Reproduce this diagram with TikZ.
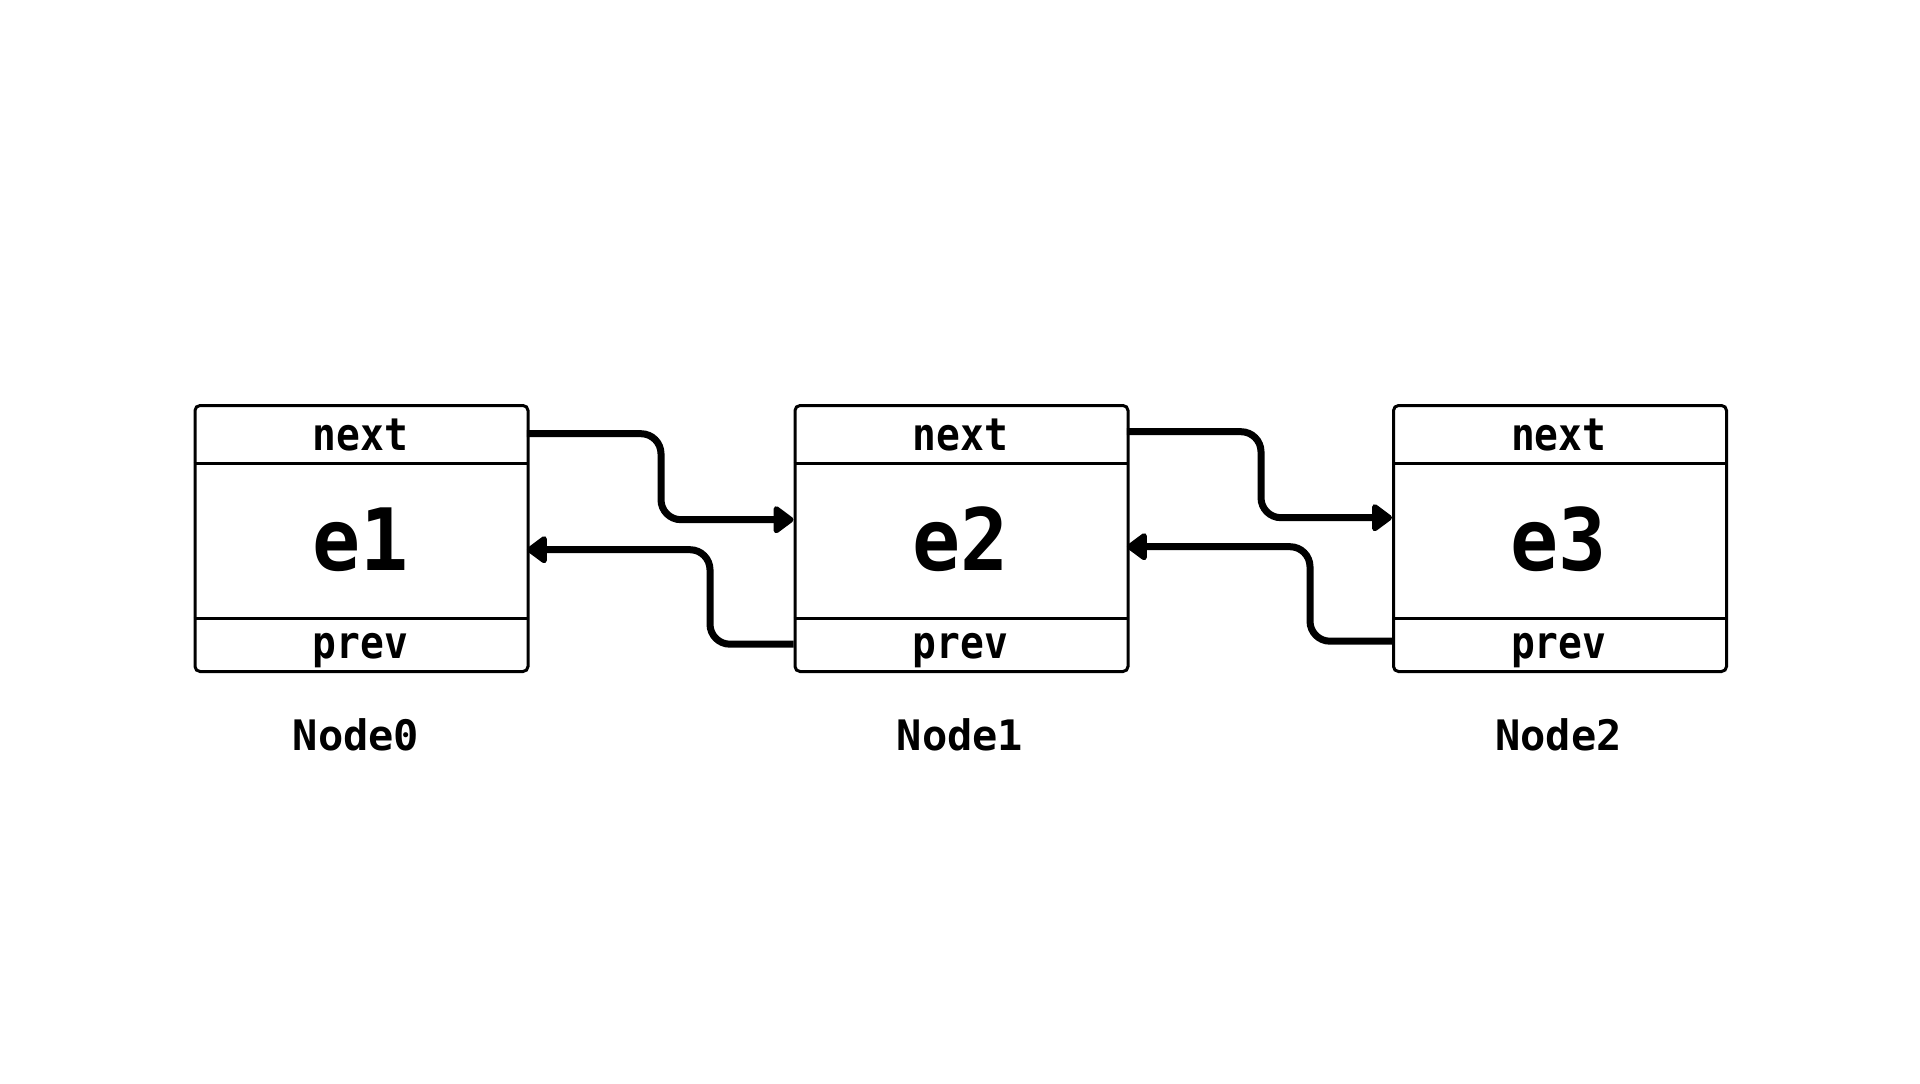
\documentclass[tikz,border=0pt]{standalone}
\usepackage{fontspec}
\usetikzlibrary{arrows.meta}
\newfontfamily\cellfont[FakeStretch=0.88]{DejaVu Sans Mono}
\newfontfamily\bigfont[FakeStretch=0.93]{DejaVu Sans Mono}
\newfontfamily\labfont{DejaVu Sans Mono}
\tikzset{
  outer/.style={draw, line width=3pt, rounded corners=5pt, minimum width=333pt, minimum height=266pt, inner sep=0pt, anchor=north west},
  topcell/.style={inner sep=0pt, minimum width=333pt, text height=46pt, text depth=13pt, anchor=north west, font=\cellfont\bfseries\fontsize{45}{50}\selectfont},
  midcell/.style={inner sep=0pt, minimum width=333pt, text height=107pt, text depth=48pt, anchor=north west, font=\bigfont\bfseries\fontsize{86}{90}\selectfont},
  botcell/.style={inner sep=0pt, minimum width=333pt, text height=40pt, text depth=12pt, anchor=north west, font=\cellfont\bfseries\fontsize{45}{50}\selectfont},
  divider/.style={line width=3pt},
  caption/.style={anchor=base, inner sep=0pt, font=\labfont\bfseries\fontsize{42}{46}\selectfont},
  link/.style={line width=7pt, rounded corners=20pt, -{Triangle[round, length=22pt, width=31pt]}},
}
\begin{document}
\begin{tikzpicture}[x=1pt, y=-1pt]
\useasboundingbox[fill=white] (0,0) rectangle (1920,1084);
% boxes
\foreach \i/\x/\e in {0/193.5/e1, 1/793.5/e2, 2/1392/e3} {
  \node[outer] (box\i) at (\x,404) {};
  \node[topcell] (t\i) at (\x,404) {next};
  \node[midcell] (m\i) at (\x,463) {\e};
  \node[botcell] (p\i) at (\x,618) {prev};
  \draw[divider] (t\i.south west) -- (t\i.south east);
  \draw[divider] (p\i.north west) -- (p\i.north east);
}
\node[caption] (l0) at (356,750) {Node0};
\node[caption] (l1) at (960,750) {Node1};
\node[caption] (l2) at (1558.5,750) {Node2};
% helper coordinates
\coordinate (k0) at (661,0);
\coordinate (k1) at (710,0);
\coordinate (k2) at (1261,0);
\coordinate (k3) at (1310,0);
\coordinate (in1) at ([yshift=21pt]m1.west);
\coordinate (in2) at ([yshift=23pt]m2.west);
\coordinate (back0) at ([yshift=-9pt]m0.east);
\coordinate (back1) at ([yshift=-6pt]m1.east);
% connectors
\draw[link] (t0.east) -| (k0 |- in1) -- (in1);
\draw[link] (p1.west) -| (k1 |- back0) -- (back0);
\draw[link] ([yshift=2pt]t1.east) -| (k2 |- in2) -- (in2);
\draw[link] ([yshift=3pt]p2.west) -| (k3 |- back1) -- (back1);
\end{tikzpicture}
\end{document}
